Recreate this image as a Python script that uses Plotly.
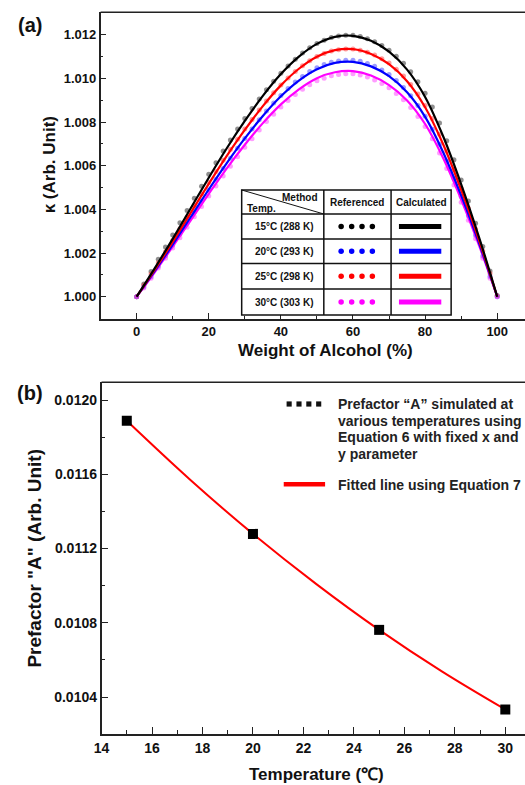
import plotly.graph_objects as go

# ---------------- data: panel (a) ----------------
wt_calc = [0, 5, 10, 15, 20, 25, 30, 35, 40, 45, 50, 55, 60, 65, 70, 75, 80, 85, 90, 95, 100]
calc_15 = [1.00000, 1.00130, 1.00265, 1.00405, 1.00545, 1.00680, 1.00805, 1.00920, 1.01020, 1.01100, 1.01158,
           1.01190, 1.01195, 1.01172, 1.01122, 1.01040, 1.00915, 1.00735, 1.00515, 1.00270, 1.00000]
calc_red = [1.00000, 1.00123, 1.00251, 1.00384, 1.00517, 1.00645, 1.00764, 1.00873, 1.00968, 1.01044, 1.01099,
            1.01129, 1.01134, 1.01112, 1.01065, 1.00987, 1.00868, 1.00698, 1.00489, 1.00256, 1.00000]
calc_blue = [1.00000, 1.00117, 1.00239, 1.00365, 1.00491, 1.00612, 1.00725, 1.00828, 1.00918, 1.00990, 1.01042,
             1.01071, 1.01076, 1.01055, 1.01010, 1.00936, 1.00824, 1.00662, 1.00464, 1.00243, 1.00000]
calc_mag = [1.00000, 1.00112, 1.00229, 1.00350, 1.00471, 1.00588, 1.00696, 1.00795, 1.00881, 1.00950, 1.01001,
            1.01028, 1.01033, 1.01013, 1.00969, 1.00899, 1.00791, 1.00635, 1.00445, 1.00233, 1.00000]

wt_ref = list(range(0, 101, 2))
ref_15 = [1.00000, 1.00058, 1.00115, 1.00172, 1.00228, 1.00283, 1.00339, 1.00395, 1.00451, 1.00506, 1.00561,
          1.00614, 1.00667, 1.00718, 1.00768, 1.00816, 1.00862, 1.00906, 1.00948, 1.00987, 1.01024, 1.01057,
          1.01088, 1.01116, 1.01140, 1.01160, 1.01175, 1.01187, 1.01194, 1.01197, 1.01197, 1.01192, 1.01182,
          1.01168, 1.01150, 1.01129, 1.01101, 1.01069, 1.01030, 1.00984, 1.00932, 1.00869, 1.00796, 1.00714,
          1.00627, 1.00535, 1.00438, 1.00337, 1.00230, 1.00118, 1.00005]
ref_red = [1.00000, 1.00052, 1.00104, 1.00155, 1.00206, 1.00257, 1.00311, 1.00364, 1.00417, 1.00470, 1.00523,
           1.00574, 1.00625, 1.00674, 1.00721, 1.00768, 1.00812, 1.00855, 1.00896, 1.00934, 1.00970, 1.01002,
           1.01032, 1.01058, 1.01081, 1.01100, 1.01114, 1.01125, 1.01131, 1.01134, 1.01134, 1.01129, 1.01120,
           1.01107, 1.01090, 1.01070, 1.01042, 1.01011, 1.00972, 1.00928, 1.00876, 1.00816, 1.00744, 1.00666,
           1.00583, 1.00496, 1.00405, 1.00310, 1.00209, 1.00106, 1.00002]
ref_blue = [1.00000, 1.00044, 1.00091, 1.00139, 1.00188, 1.00237, 1.00287, 1.00337, 1.00388, 1.00438, 1.00489,
            1.00538, 1.00587, 1.00634, 1.00680, 1.00725, 1.00768, 1.00810, 1.00850, 1.00887, 1.00922, 1.00954,
            1.00983, 1.01009, 1.01031, 1.01049, 1.01063, 1.01074, 1.01080, 1.01083, 1.01083, 1.01078, 1.01068,
            1.01055, 1.01038, 1.01018, 1.00990, 1.00958, 1.00920, 1.00876, 1.00826, 1.00767, 1.00698, 1.00622,
            1.00542, 1.00459, 1.00371, 1.00281, 1.00187, 1.00092, 1.00000]
ref_mag = [1.00000, 1.00040, 1.00085, 1.00131, 1.00176, 1.00223, 1.00270, 1.00318, 1.00366, 1.00413, 1.00461,
           1.00507, 1.00553, 1.00598, 1.00641, 1.00684, 1.00724, 1.00764, 1.00802, 1.00836, 1.00869, 1.00899,
           1.00926, 1.00950, 1.00971, 1.00989, 1.01001, 1.01012, 1.01018, 1.01021, 1.01021, 1.01015, 1.01006,
           1.00993, 1.00976, 1.00957, 1.00931, 1.00902, 1.00867, 1.00825, 1.00779, 1.00723, 1.00658, 1.00587,
           1.00512, 1.00433, 1.00350, 1.00265, 1.00176, 1.00085, 1.00000]

table_rows = ["15°C (288 K)", "20°C (293 K)", "25°C (298 K)", "30°C (303 K)"]
row_colors = ["#000000", "#0000FF", "#FF0000", "#FF00FF"]

# ---------------- data: panel (b) ----------------
temp_pts = [15, 20, 25, 30]
prefactor_pts = [0.011888, 0.011279, 0.010762, 0.010333]
temp_fit = [15, 17.5, 20, 22.5, 25, 27.5, 30]
prefactor_fit = [0.011888, 0.011572, 0.011279, 0.011010, 0.010762, 0.010537, 0.010333]

W, H = 525, 785
FONT = "Liberation Sans, Arial, sans-serif"


def px(x):
    return x / W


def py(y):
    return 1 - y / H


fig = go.Figure()

ref_series = [(ref_15, "rgba(70,70,70,0.6)"), (ref_red, "rgba(255,60,60,0.5)"),
              (ref_blue, "rgba(60,60,255,0.5)"), (ref_mag, "rgba(255,60,255,0.5)")]
for ys, c in ref_series:
    fig.add_trace(go.Scatter(x=wt_ref, y=ys, mode="markers", xaxis="x", yaxis="y",
                             marker=dict(size=5, color=c, line=dict(width=0)), showlegend=False))
for ys, c in [(calc_mag, "#FF00FF"), (calc_blue, "#0000FF"), (calc_red, "#FF0000"), (calc_15, "#000000")]:
    fig.add_trace(go.Scatter(x=wt_calc, y=ys, mode="lines", xaxis="x", yaxis="y",
                             line=dict(color=c, width=2.2, shape="spline"), showlegend=False))

fig.add_trace(go.Scatter(x=temp_fit, y=prefactor_fit, mode="lines", xaxis="x2", yaxis="y2",
                         line=dict(color="#FF0000", width=2, shape="spline"), showlegend=False))
fig.add_trace(go.Scatter(x=temp_pts, y=prefactor_pts, mode="markers", xaxis="x2", yaxis="y2",
                         marker=dict(symbol="square", size=10, color="#000000"), showlegend=False))

tickfont = dict(family=FONT, size=13, color="#111", weight="bold")
tickfont2 = dict(family=FONT, size=14, color="#111", weight="bold")
axcommon = dict(showline=True, linecolor="#222", linewidth=1.5, showgrid=False, zeroline=False,
                ticks="inside", tickcolor="#222", tickwidth=1.2)

fig.update_layout(
    width=W, height=H, margin=dict(l=0, r=0, t=0, b=0),
    paper_bgcolor="white", plot_bgcolor="white", showlegend=False,
    xaxis=dict(domain=[px(94), 1], range=[-10, 107.7], tickvals=[0, 20, 40, 60, 80, 100],
               ticklen=6, tickfont=tickfont, anchor="y",
               minor=dict(ticks="inside", ticklen=3, dtick=10, tick0=10, tickcolor="#222", tickwidth=1.2),
               **axcommon),
    yaxis=dict(domain=[py(319), py(12.3)], range=[0.998979, 1.013026],
               tickvals=[1.000, 1.002, 1.004, 1.006, 1.008, 1.010, 1.012], tickformat=".3f",
               ticklen=6, tickfont=tickfont, anchor="x",
               minor=dict(ticks="inside", ticklen=3, dtick=0.002, tick0=1.001, tickcolor="#222", tickwidth=1.2),
               **axcommon),
    xaxis2=dict(domain=[px(95), 1], range=[14, 30.78], tickvals=list(range(14, 31, 2)),
                ticklen=7, tickfont=tickfont2, anchor="y2",
                minor=dict(ticks="inside", ticklen=4, dtick=2, tick0=15, tickcolor="#222", tickwidth=1.2),
                **axcommon),
    yaxis2=dict(domain=[py(734), py(382.3)], range=[0.0102011, 0.0120955],
                tickvals=[0.0104, 0.0108, 0.0112, 0.0116, 0.0120], tickformat=".4f",
                ticklen=7, tickfont=tickfont2, anchor="x2",
                minor=dict(ticks="inside", ticklen=4, dtick=0.0004, tick0=0.0102, tickcolor="#222", tickwidth=1.2),
                **axcommon),
)

shapes = []
annots = []


def text(x, y, s, size, xanchor="center", angle=0, color="#111"):
    annots.append(dict(x=px(x), y=py(y), xref="paper", yref="paper", text=s, showarrow=False,
                       xanchor=xanchor, yanchor="middle", textangle=angle,
                       font=dict(family=FONT, size=size, color=color, weight="bold")))


def line(x0, y0, x1, y1, color="#111", width=1.5):
    shapes.append(dict(type="line", xref="paper", yref="paper", x0=px(x0), y0=py(y0), x1=px(x1), y1=py(y1),
                       line=dict(color=color, width=width)))


# top frame lines
line(94, 12.3, W + 2, 12.3, "#222", 1.5)
line(95, 382.3, W + 2, 382.3, "#222", 1.5)

# panel labels and axis titles
text(22, 25, "(a)", 20)
text(22, 393, "(b)", 20)
text(43, 165, "κ (Arb. Unit)", 17, angle=-90)
text(322, 350, "Weight of Alcohol (%)", 17)
text(26, 558, 'Prefactor "A" (Arb. Unit)', 19, angle=-90)
text(313, 774, "Temperature (℃)", 17)

# table in panel (a)
tx0, tx1, tx2, tx3 = 237.3, 320.7, 389, 450
ty = [190, 214, 239, 263.5, 289, 315]
shapes.append(dict(type="rect", xref="paper", yref="paper", x0=px(tx0), y0=py(ty[-1]), x1=px(tx3), y1=py(ty[0]),
                   fillcolor="white", line=dict(color="#111", width=1.5)))
for yy in ty[1:-1]:
    line(tx0, yy, tx3, yy)
line(tx1, ty[0], tx1, ty[-1])
line(tx2, ty[0], tx2, ty[-1])
line(tx0, ty[0], tx1, ty[1], "#111", 1)
text(316.5, 197.5, "Method", 10, xanchor="right")
text(240.5, 208.3, "Temp.", 10, xanchor="left")
text((tx1 + tx2) / 2, 203, "Referenced", 10)
text((tx2 + tx3) / 2, 203, "Calculated", 10)
for i, (lab, c) in enumerate(zip(table_rows, row_colors)):
    yc = (ty[i + 1] + ty[i + 2]) / 2
    text((tx0 + tx1) / 2 + 1, yc, lab, 10)
    for xc in [338.3, 349, 359.5, 370]:
        shapes.append(dict(type="circle", xref="paper", yref="paper", x0=px(xc - 2.8), x1=px(xc + 2.8),
                           y0=py(yc + 2.8), y1=py(yc - 2.8), fillcolor=c, line=dict(width=0)))
    shapes.append(dict(type="rect", xref="paper", yref="paper", x0=px(397), x1=px(440), y0=py(yc + 2.6),
                       y1=py(yc - 2.6), fillcolor=c, line=dict(width=0)))

# legend in panel (b)
for xc in [285.5, 295.5, 305.5, 315.5]:
    shapes.append(dict(type="rect", xref="paper", yref="paper", x0=px(xc - 2.6), x1=px(xc + 2.6),
                       y0=py(404 + 2.6), y1=py(404 - 2.6), fillcolor="#111", line=dict(width=0)))
shapes.append(dict(type="rect", xref="paper", yref="paper", x0=px(280), x1=px(322), y0=py(486.5), y1=py(482),
                   fillcolor="#FF0000", line=dict(width=0)))
leg_lines = ["Prefactor “A” simulated at", "various temperatures using", "Equation 6 with fixed x and",
             "y parameter"]
for i, s in enumerate(leg_lines):
    text(333, 404 + i * 16.6, s, 14, xanchor="left", color="#222")
text(333, 484.5, "Fitted line using Equation 7", 14, xanchor="left", color="#222")

fig.update_layout(shapes=shapes, annotations=annots)
fig.write_html("out.html", config={"displayModeBar": False},
               post_script="document.body.style.margin='0';document.body.style.overflow='hidden';")
